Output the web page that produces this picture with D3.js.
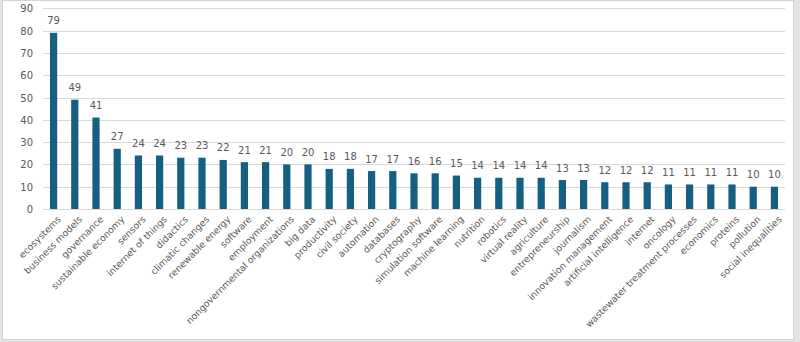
<!DOCTYPE html>
<html>
<head>
<meta charset="utf-8">
<script src="https://cdn.jsdelivr.net/npm/d3@7/dist/d3.min.js"></script>
<style>
  html, body { margin: 0; padding: 0; background: #e4e4e4; }
  svg { display: block; }
</style>
</head>
<body>
<svg id="chart" width="800" height="342"></svg>
<script>
const categories = ["ecosystems","business models","governance","sustainable economy","sensors","internet of things","didactics","climatic changes","renewable energy","software","employment","nongovernmental organizations","big data","productivity","civil society","automation","databases","cryptography","simulation software","machine learning","nutrition","robotics","virtual reality","agriculture","entrepreneurship","journalism","innovation management","artificial intelligence","internet","oncology","wastewater treatment processes","economics","proteins","pollution","social inequalities"];
const values = [79,49,41,27,24,24,23,23,22,21,21,20,20,18,18,17,17,16,16,15,14,14,14,14,13,13,12,12,12,11,11,11,11,10,10];
const yTicks = [0,10,20,30,40,50,60,70,80,90];

const svg = d3.select("#chart");
const font = "'DejaVu Sans', sans-serif";
const textColor = "#595959";

// chart area background
svg.append("rect").attr("x", 2.5).attr("y", 0.5).attr("width", 791).attr("height", 339)
  .attr("fill", "#ffffff").attr("stroke", "#d4d4d4");

const x = d3.scaleBand().domain(categories).range([43, 785]).paddingInner(0.66).paddingOuter(0.33);
const y = d3.scaleLinear().domain([0, 90]).range([209, 8.3]);

// gridlines
svg.append("g").selectAll("line").data(yTicks).join("line")
  .attr("x1", 43).attr("x2", 785)
  .attr("y1", d => Math.round(y(d)) + 0.5).attr("y2", d => Math.round(y(d)) + 0.5)
  .attr("stroke", "#d9d9d9").attr("stroke-width", 1);

// y axis labels
const yAxis = d3.axisLeft(y).tickValues(yTicks).tickSize(0).tickPadding(0);
const gy = svg.append("g").attr("transform", "translate(33,0)").call(yAxis);
gy.select(".domain").remove();
gy.selectAll("text").attr("font-family", font).attr("font-size", 10).attr("fill", textColor).attr("dy", "0.35em");

// bars
svg.append("g").selectAll("rect").data(values).join("rect")
  .attr("x", (d, i) => x(categories[i]))
  .attr("width", x.bandwidth())
  .attr("y", d => y(d))
  .attr("height", d => y(0) - y(d))
  .attr("fill", "#156082");

// value labels
svg.append("g").selectAll("text").data(values).join("text")
  .attr("x", (d, i) => x(categories[i]) + x.bandwidth() / 2)
  .attr("y", d => y(d) - 8.5)
  .attr("text-anchor", "middle")
  .attr("font-family", font).attr("font-size", 10).attr("fill", textColor)
  .text(d => d);

// x axis
const xAxis = d3.axisBottom(x).tickSize(0).tickPadding(0);
const gx = svg.append("g").attr("transform", "translate(0,209)").call(xAxis);
gx.select(".domain").attr("stroke", "#d9d9d9").attr("d", "M43,0.5H785");
gx.selectAll("text")
  .attr("font-family", font).attr("font-size", 9.3).attr("fill", textColor)
  .attr("text-anchor", "end")
  .attr("y", 0).attr("dy", "0.75em")
  .attr("transform", "translate(3,6) rotate(-45)");
</script>
</body>
</html>
